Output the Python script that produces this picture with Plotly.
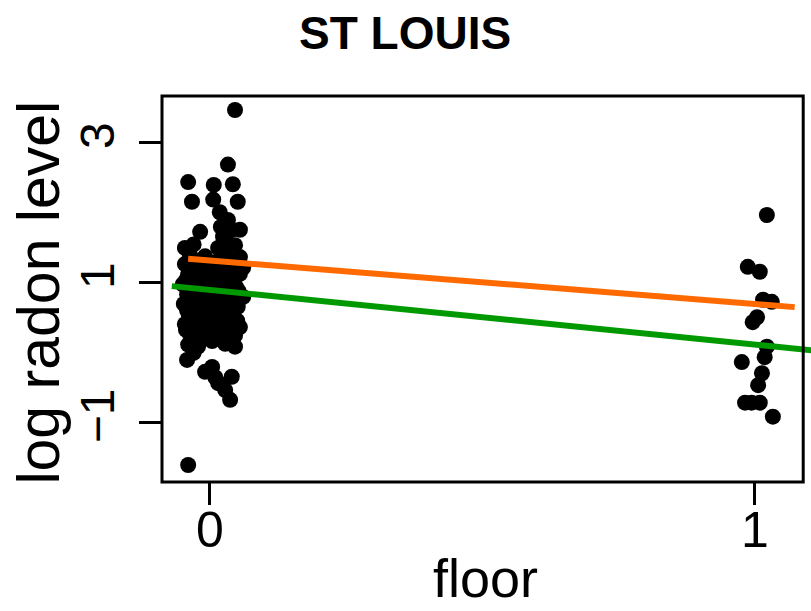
import numpy as np
import plotly.graph_objects as go

# Observed houses: jittered floor indicator (0 = basement, 1 = first floor) and log radon
floor0_x = [0.046, 0.033, -0.040, -0.033, 0.007, 0.042, 0.051, 0.006, 0.018, 0.033,
            0.040, -0.018, 0.024, 0.055, -0.046, 0.015, 0.046,
            -0.037, -0.009, 0.028, 0.055,
            -0.046, -0.018, 0.009, 0.040, 0.061,
            -0.040, -0.022, 0.000, 0.033, 0.055,
            -0.050, -0.028, -0.004, 0.022, 0.048,
            -0.042, -0.018, 0.009, 0.037, 0.061,
            -0.048, -0.026, 0.004, 0.029, 0.051,
            -0.039, -0.013, 0.015, 0.042,
            -0.046, -0.022, 0.006, 0.033, 0.055,
            -0.037, -0.009, 0.018, 0.046,
            -0.040, -0.022, 0.028, 0.046,
            -0.042, -0.022, -0.009, 0.004, 0.015, 0.028, 0.040, 0.037, -0.040,
            -0.030, 0.020, 0.030,
            # second layer filling the dense core
            -0.030, -0.004, 0.018, 0.046,
            -0.035, -0.010, 0.021, 0.048,
            -0.044, -0.015, 0.013, 0.044,
            -0.036, -0.006, 0.026, 0.052,
            -0.033, -0.008, 0.020, 0.049,
            -0.042, -0.016, 0.012, 0.041,
            -0.030, -0.002, 0.026, 0.050,
            -0.044, -0.013, 0.011, 0.038,
            -0.031, 0.004, 0.036,
            0.010, 0.022, -0.030]
floor0_y = [3.47, 2.69, 2.44, 2.16, 2.40, 2.41, 2.16, 2.19, 2.01, 1.90,
            1.76, 1.73, 1.66, 1.76, 1.50, 1.50, 1.54,
            1.41, 1.38, 1.42, 1.37,
            1.27, 1.24, 1.28, 1.25, 1.22,
            1.12, 1.09, 1.14, 1.10, 1.13,
            0.98, 0.95, 0.99, 0.96, 0.94,
            0.84, 0.81, 0.85, 0.82, 0.80,
            0.70, 0.67, 0.71, 0.68, 0.66,
            0.55, 0.52, 0.56, 0.53,
            0.41, 0.38, 0.42, 0.39, 0.37,
            0.27, 0.24, 0.28, 0.25,
            0.12, 0.09, 0.13, 0.09,
            -0.10, 0.11, -0.27, -0.20, -0.43, -0.53, -0.34, -0.67, -1.60,
            1.55, 1.80, 1.60,
            1.33, 1.31, 1.34, 1.30,
            1.18, 1.20, 1.17, 1.19,
            1.04, 1.02, 1.05, 1.03,
            0.90, 0.88, 0.91, 0.89,
            0.76, 0.74, 0.77, 0.73,
            0.61, 0.60, 0.62, 0.59,
            0.47, 0.45, 0.48, 0.46,
            0.33, 0.31, 0.34, 0.32,
            0.18, 0.17, 0.19,
            -0.35, -0.45, 0.00]

floor1_x = [1.022, 0.987, 1.009, 1.015, 1.031, 1.004, 0.996, 1.022, 0.976, 1.018,
            1.013, 1.006, 0.982, 0.994, 1.009, 1.033]
floor1_y = [1.97, 1.23, 1.16, 0.76, 0.73, 0.51, 0.44, 0.09, -0.13, -0.06,
            -0.29, -0.46, -0.71, -0.71, -0.71, -0.91]

# Fitted regression lines: intercept, slope and x extent
fit_names = ["orange fit", "green fit"]
fit_intercepts = [1.32, 0.90]
fit_slopes = [-0.62, -0.78]
fit_x_from = [-0.040, -0.070]
fit_x_to = [1.073, 1.110]
fit_colors = ["#ff6a00", "#009a00"]

x_ticks = [0, 1]
y_ticks = [-1, 1, 3]

FONT = "Liberation Sans, Arial, sans-serif"

fig = go.Figure()

fig.add_trace(go.Scatter(
    x=floor0_x + floor1_x, y=floor0_y + floor1_y, mode="markers",
    marker=dict(color="black", size=16, line=dict(width=0)),
    showlegend=False, hoverinfo="skip"))

for name, a, b, x0, x1, c in zip(fit_names, fit_intercepts, fit_slopes,
                                 fit_x_from, fit_x_to, fit_colors):
    xs = np.array([x0, x1])
    fig.add_trace(go.Scatter(x=xs, y=a + b * xs, mode="lines", name=name,
                             line=dict(color=c, width=6), showlegend=False,
                             hoverinfo="skip"))

fig.update_layout(
    width=811, height=611,
    margin=dict(l=162, r=0, t=96, b=129),
    paper_bgcolor="white", plot_bgcolor="white",
    font=dict(family=FONT, color="black"),
    xaxis=dict(range=[-0.088, 1.103], tickvals=x_ticks, ticktext=[str(v) for v in x_ticks],
               ticks="outside", ticklen=22, tickwidth=3, tickcolor="black",
               showgrid=False, zeroline=False, showline=False,
               tickfont=dict(size=50, family=FONT), ticklabelstandoff=-18),
    yaxis=dict(range=[-1.843, 3.67], tickvals=y_ticks,
               ticktext=["\u22121", "1", "3"],
               ticks="outside", ticklen=22, tickwidth=3, tickcolor="black",
               tickangle=-90, showgrid=False, zeroline=False, showline=False,
               tickfont=dict(size=48, family=FONT), ticklabelstandoff=6),
    shapes=[dict(type="rect", xref="paper", yref="paper", x0=0, x1=0.988, y0=0, y1=1,
                 line=dict(color="black", width=3), layer="above")],
    annotations=[
        dict(text="<b>ST LOUIS</b>", xref="paper", yref="paper", x=0.3744, y=1.163,
             xanchor="center", yanchor="middle", showarrow=False,
             font=dict(size=46, family=FONT)),
        dict(text="floor", xref="paper", yref="paper", x=0.499, y=-0.3316,
             xanchor="center", yanchor="bottom", showarrow=False,
             font=dict(size=54, family=FONT)),
        dict(text="log radon level", xref="paper", yref="paper", x=-0.19, y=0.49,
             xanchor="center", yanchor="middle", textangle=-90, showarrow=False,
             font=dict(size=59, family=FONT)),
    ],
)

fig.write_html("out.html")
